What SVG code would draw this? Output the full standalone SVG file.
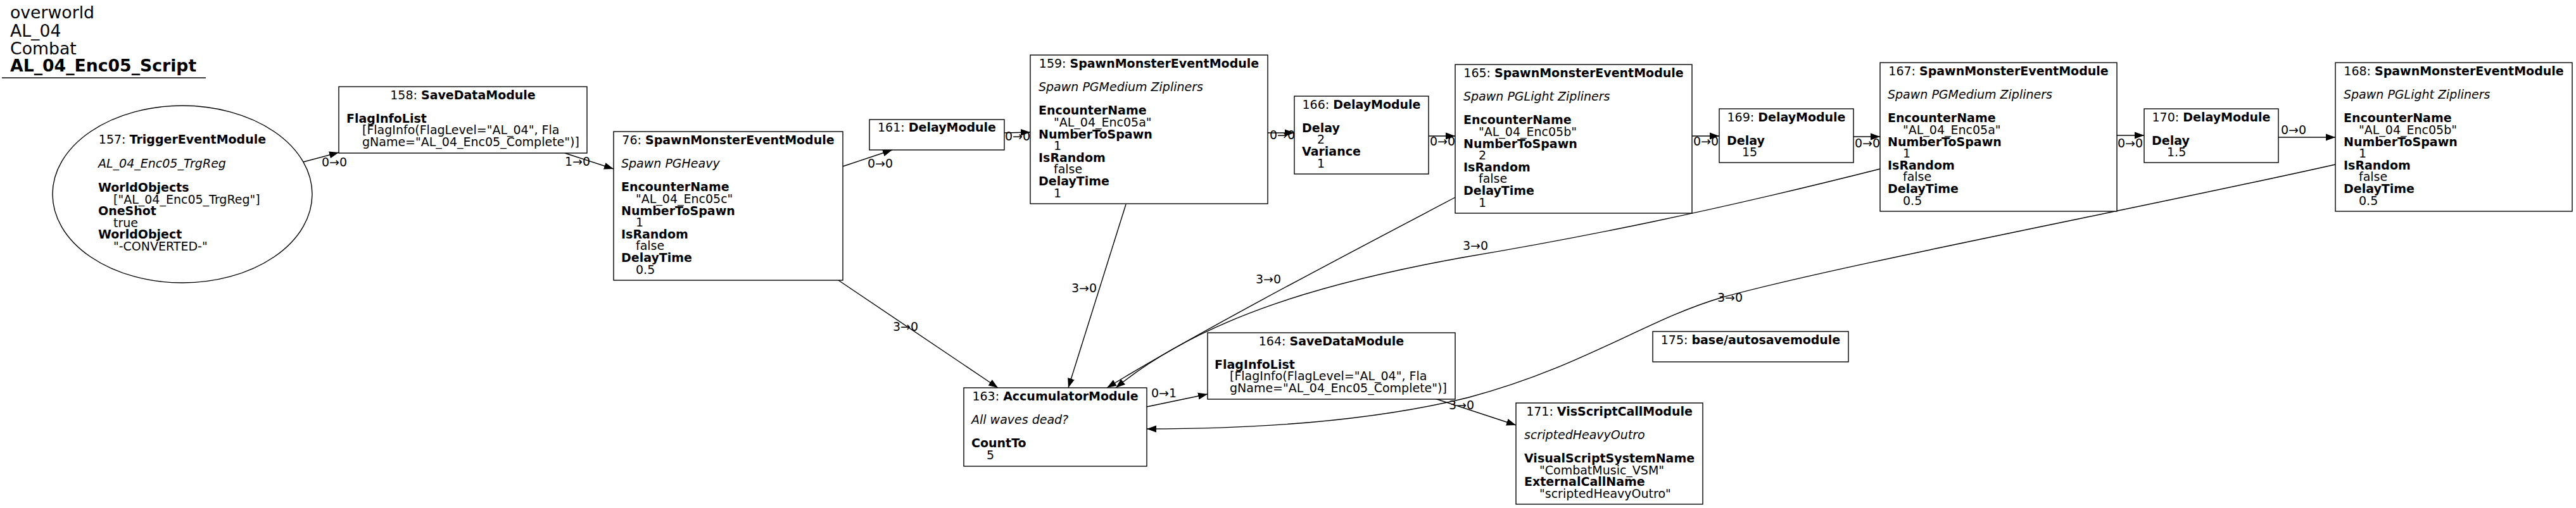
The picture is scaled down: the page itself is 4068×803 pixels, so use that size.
<svg xmlns="http://www.w3.org/2000/svg" width="4068" height="803" viewBox="0 0 4068 803">
<defs>
<marker id="ah" markerUnits="userSpaceOnUse" markerWidth="16" markerHeight="12" refX="15" refY="6" orient="auto">
<path d="M0,0.5 L15,6 L0,11.5 Z" fill="#000"/>
</marker>
<style>
text{font-family:"DejaVu Sans","Liberation Sans",sans-serif;font-size:19px;fill:#000}
.b{font-weight:bold}
.i{font-style:italic}
.m{text-anchor:middle}
.hd{font-size:26.7px}
.box{fill:#fff;stroke:#000;stroke-width:1.4}
.e path{fill:none;stroke:#000;stroke-width:1.4;marker-end:url(#ah)}
</style>
</defs>
<rect width="4068" height="803" fill="#fff"/>
<g id="title">
<text class="hd" x="16" y="29">overworld</text>
<text class="hd" x="16" y="58">AL_04</text>
<text class="hd" x="16" y="86">Combat</text>
<text class="hd b" x="16" y="113">AL_04_Enc05_Script</text>
<line x1="3" y1="123" x2="325" y2="123" stroke="#000" stroke-width="1.5"/>
</g>
<g class="e" id="edges">
<path d="M479,256 L535,241"/>
<path d="M892,242 L969,267"/>
<path d="M1331,263 L1409,237"/>
<path d="M1586,210 L1627,209"/>
<path d="M2002,210 L2044,210"/>
<path d="M2256,215 L2298,215"/>
<path d="M2672,215 L2715,215"/>
<path d="M2927,216 L2969,216"/>
<path d="M3343,214 L3386,214"/>
<path d="M3598,217 L3688,217"/>
<path d="M1324,443 L1576,613"/>
<path d="M1778,323 L1687,613"/>
<path d="M2298,312 C2150,390 1900,520 1748,613"/>
<path d="M2969,267 C2700,335 2500,375 2310,407 C2100,445 1900,500 1762,613"/>
<path d="M3688,260 C3400,325 2900,420 2720,470 C2600,505 2500,580 2320,628 C2150,670 1950,678 1811,678"/>
<path d="M1811,643 L1907,623"/>
<path d="M2266,630 L2394,672"/>
<text x="508" y="263">0→0</text>
<text x="892" y="262">1→0</text>
<text x="1370" y="265">0→0</text>
<text x="1587" y="222">0→0</text>
<text x="2005" y="220">0→0</text>
<text x="2258" y="230">0→0</text>
<text x="2674" y="230">0→0</text>
<text x="2929" y="233">0→0</text>
<text x="3344" y="233">0→0</text>
<text x="3602" y="212">0→0</text>
<text x="1410" y="523">3→0</text>
<text x="1692" y="462">3→0</text>
<text x="1983" y="448">3→0</text>
<text x="2310" y="395">3→0</text>
<text x="2712" y="477">3→0</text>
<text x="1818" y="628">0→1</text>
<text x="2288" y="647">3→0</text>
</g>
<g id="n157">
<ellipse class="box" cx="288" cy="307" rx="205" ry="140"/>
<text class="m" x="288" y="227"><tspan>157: </tspan><tspan class="b">TriggerEventModule</tspan></text>
<text class="i" x="155" y="265">AL_04_Enc05_TrgReg</text>
<text class="b" x="155" y="303">WorldObjects</text>
<text x="179" y="321.6">["AL_04_Enc05_TrgReg"]</text>
<text class="b" x="155" y="340.2">OneShot</text>
<text x="179" y="358.8">true</text>
<text class="b" x="155" y="377.4">WorldObject</text>
<text x="179" y="396">"-CONVERTED-"</text>
</g>
<g id="n158">
<rect class="box" x="535" y="137" width="392" height="105"/>
<text class="m" x="731" y="156.5"><tspan>158: </tspan><tspan class="b">SaveDataModule</tspan></text>
<text class="b" x="547" y="193.7">FlagInfoList</text>
<text x="572" y="212.3">[FlagInfo(FlagLevel="AL_04", Fla</text>
<text x="572" y="230.9">gName="AL_04_Enc05_Complete")]</text>
</g>
<g id="n76">
<rect class="box" x="969" y="208" width="362" height="235"/>
<text class="m" x="1150" y="228"><tspan>76: </tspan><tspan class="b">SpawnMonsterEventModule</tspan></text>
<text class="i" x="981" y="265.2">Spawn PGHeavy</text>
<text class="b" x="981" y="302.4">EncounterName</text>
<text x="1004" y="321">"AL_04_Enc05c"</text>
<text class="b" x="981" y="339.6">NumberToSpawn</text>
<text x="1004" y="358.2">1</text>
<text class="b" x="981" y="376.8">IsRandom</text>
<text x="1004" y="395.4">false</text>
<text class="b" x="981" y="414">DelayTime</text>
<text x="1004" y="432.6">0.5</text>
</g>
<g id="n161">
<rect class="box" x="1373" y="189" width="213" height="48"/>
<text class="m" x="1479.5" y="207.5"><tspan>161: </tspan><tspan class="b">DelayModule</tspan></text>
</g>
<g id="n159">
<rect class="box" x="1627" y="87" width="375" height="235"/>
<text class="m" x="1814.5" y="107"><tspan>159: </tspan><tspan class="b">SpawnMonsterEventModule</tspan></text>
<text class="i" x="1640" y="144.2">Spawn PGMedium Zipliners</text>
<text class="b" x="1640" y="181.4">EncounterName</text>
<text x="1664" y="200">"AL_04_Enc05a"</text>
<text class="b" x="1640" y="218.6">NumberToSpawn</text>
<text x="1664" y="237.2">1</text>
<text class="b" x="1640" y="255.8">IsRandom</text>
<text x="1664" y="274.4">false</text>
<text class="b" x="1640" y="293">DelayTime</text>
<text x="1664" y="311.6">1</text>
</g>
<g id="n166">
<rect class="box" x="2044" y="152" width="212" height="123"/>
<text class="m" x="2150" y="171.5"><tspan>166: </tspan><tspan class="b">DelayModule</tspan></text>
<text class="b" x="2056" y="208.7">Delay</text>
<text x="2080" y="227.3">2</text>
<text class="b" x="2056" y="245.9">Variance</text>
<text x="2080" y="264.5">1</text>
</g>
<g id="n165">
<rect class="box" x="2298" y="102" width="374" height="235"/>
<text class="m" x="2485" y="122"><tspan>165: </tspan><tspan class="b">SpawnMonsterEventModule</tspan></text>
<text class="i" x="2311" y="159.2">Spawn PGLight Zipliners</text>
<text class="b" x="2311" y="196.4">EncounterName</text>
<text x="2335" y="215">"AL_04_Enc05b"</text>
<text class="b" x="2311" y="233.6">NumberToSpawn</text>
<text x="2335" y="252.2">2</text>
<text class="b" x="2311" y="270.8">IsRandom</text>
<text x="2335" y="289.4">false</text>
<text class="b" x="2311" y="308">DelayTime</text>
<text x="2335" y="326.6">1</text>
</g>
<g id="n169">
<rect class="box" x="2715" y="172" width="212" height="85"/>
<text class="m" x="2821" y="191.5"><tspan>169: </tspan><tspan class="b">DelayModule</tspan></text>
<text class="b" x="2727" y="228.7">Delay</text>
<text x="2751" y="247.3">15</text>
</g>
<g id="n167">
<rect class="box" x="2969" y="99" width="374" height="235"/>
<text class="m" x="3156" y="119"><tspan>167: </tspan><tspan class="b">SpawnMonsterEventModule</tspan></text>
<text class="i" x="2981" y="156.2">Spawn PGMedium Zipliners</text>
<text class="b" x="2981" y="193.4">EncounterName</text>
<text x="3005" y="212">"AL_04_Enc05a"</text>
<text class="b" x="2981" y="230.6">NumberToSpawn</text>
<text x="3005" y="249.2">1</text>
<text class="b" x="2981" y="267.8">IsRandom</text>
<text x="3005" y="286.4">false</text>
<text class="b" x="2981" y="305">DelayTime</text>
<text x="3005" y="323.6">0.5</text>
</g>
<g id="n170">
<rect class="box" x="3386" y="172" width="212" height="85"/>
<text class="m" x="3492" y="191.5"><tspan>170: </tspan><tspan class="b">DelayModule</tspan></text>
<text class="b" x="3398" y="228.7">Delay</text>
<text x="3422" y="247.3">1.5</text>
</g>
<g id="n168">
<rect class="box" x="3688" y="99" width="374" height="235"/>
<text class="m" x="3875" y="119"><tspan>168: </tspan><tspan class="b">SpawnMonsterEventModule</tspan></text>
<text class="i" x="3701" y="156.2">Spawn PGLight Zipliners</text>
<text class="b" x="3701" y="193.4">EncounterName</text>
<text x="3725" y="212">"AL_04_Enc05b"</text>
<text class="b" x="3701" y="230.6">NumberToSpawn</text>
<text x="3725" y="249.2">1</text>
<text class="b" x="3701" y="267.8">IsRandom</text>
<text x="3725" y="286.4">false</text>
<text class="b" x="3701" y="305">DelayTime</text>
<text x="3725" y="323.6">0.5</text>
</g>
<g id="n163">
<rect class="box" x="1522" y="613" width="289" height="124"/>
<text class="m" x="1666.5" y="632.5"><tspan>163: </tspan><tspan class="b">AccumulatorModule</tspan></text>
<text class="i" x="1534" y="669.7">All waves dead?</text>
<text class="b" x="1534" y="706.9">CountTo</text>
<text x="1558" y="725.5">5</text>
</g>
<g id="n164">
<rect class="box" x="1907" y="526" width="391" height="105"/>
<text class="m" x="2102.5" y="545.5"><tspan>164: </tspan><tspan class="b">SaveDataModule</tspan></text>
<text class="b" x="1918" y="582.7">FlagInfoList</text>
<text x="1942" y="601.3">[FlagInfo(FlagLevel="AL_04", Fla</text>
<text x="1942" y="619.9">gName="AL_04_Enc05_Complete")]</text>
</g>
<g id="n175">
<rect class="box" x="2610" y="524" width="309" height="48"/>
<text class="m" x="2764.5" y="543.5"><tspan>175: </tspan><tspan class="b">base/autosavemodule</tspan></text>
</g>
<g id="n171">
<rect class="box" x="2394" y="637" width="295" height="160"/>
<text class="m" x="2541.5" y="656.5"><tspan>171: </tspan><tspan class="b">VisScriptCallModule</tspan></text>
<text class="i" x="2407" y="693.7">scriptedHeavyOutro</text>
<text class="b" x="2407" y="730.9">VisualScriptSystemName</text>
<text x="2431" y="749.5">"CombatMusic_VSM"</text>
<text class="b" x="2407" y="768.1">ExternalCallName</text>
<text x="2431" y="786.7">"scriptedHeavyOutro"</text>
</g>
</svg>
